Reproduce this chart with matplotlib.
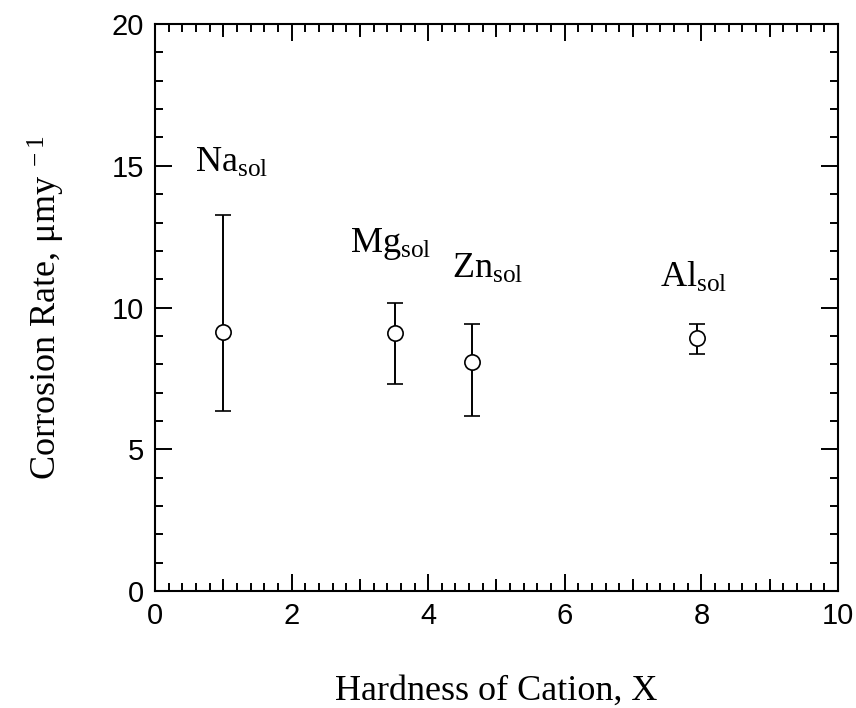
#
# Corrosion rate vs cation hardness
#
import matplotlib
matplotlib.use('Agg')
import matplotlib.pyplot as plt
from matplotlib.ticker import MultipleLocator

# data
cations = ['Na', 'Mg', 'Zn', 'Al']
hardness = [1.0, 3.52, 4.64, 7.93]
rate = [9.15, 9.09, 8.08, 8.93]
rate_hi = [13.26, 10.17, 9.42, 9.42]
rate_lo = [6.36, 7.29, 6.18, 8.37]
# label anchor (x, y) in data units
label_x = [0.585, 2.85, 4.35, 7.39]
label_y = [14.78, 11.96, 11.04, 10.72]

plt.rcParams['mathtext.fontset'] = 'custom'
plt.rcParams['mathtext.rm'] = 'Liberation Serif'
plt.rcParams['mathtext.it'] = 'Liberation Serif:italic'

fig = plt.figure(figsize=(8.56, 7.08), dpi=100)
ax = fig.add_axes([0.181, 0.165, 0.798, 0.801])

err_lo = [r - l for r, l in zip(rate, rate_lo)]
err_hi = [h - r for r, h in zip(rate, rate_hi)]
ax.errorbar(hardness, rate, yerr=[err_lo, err_hi], fmt='o', color='black',
            mfc='white', mec='black', ms=11, mew=1.2, elinewidth=1.4,
            capsize=6, capthick=1.4, zorder=3)

for name, lx, ly in zip(cations, label_x, label_y):
    ax.text(lx, ly, name + r'$_{\mathrm{sol}}$', fontsize=26,
            family='Liberation Serif', ha='left', va='baseline')

ax.set_xlim(0, 10)
ax.set_ylim(0, 20)
ax.xaxis.set_major_locator(MultipleLocator(2))
ax.xaxis.set_minor_locator(MultipleLocator(0.2))
ax.yaxis.set_major_locator(MultipleLocator(5))
ax.yaxis.set_minor_locator(MultipleLocator(1))
ax.tick_params(which='both', direction='in', top=True, right=True, width=1.4)
ax.tick_params(which='major', length=12, labelsize=21, pad=8)
ax.tick_params(which='minor', length=6)
for lab in ax.get_xticklabels() + ax.get_yticklabels():
    lab.set_family('Liberation Sans')
for s in ax.spines.values():
    s.set_linewidth(1.5)

# medium ticks at odd integers, top and bottom
for loc in ['bottom', 'top']:
    sec = ax.secondary_xaxis(loc)
    sec.set_xticks([1, 3, 5, 7, 9])
    sec.tick_params(direction='in', length=9, width=1.4, labelbottom=False,
                    labeltop=False)
    sec.spines[loc].set_visible(False)

ax.set_xlabel('Hardness of Cation, X', fontsize=26, family='Liberation Serif',
              labelpad=32)
ax.set_ylabel(r'Corrosion Rate, $\mathrm{\mu my}^{\ -1}$', fontsize=26,
              family='Liberation Serif', labelpad=32)

fig.savefig('out.png', dpi=100)
